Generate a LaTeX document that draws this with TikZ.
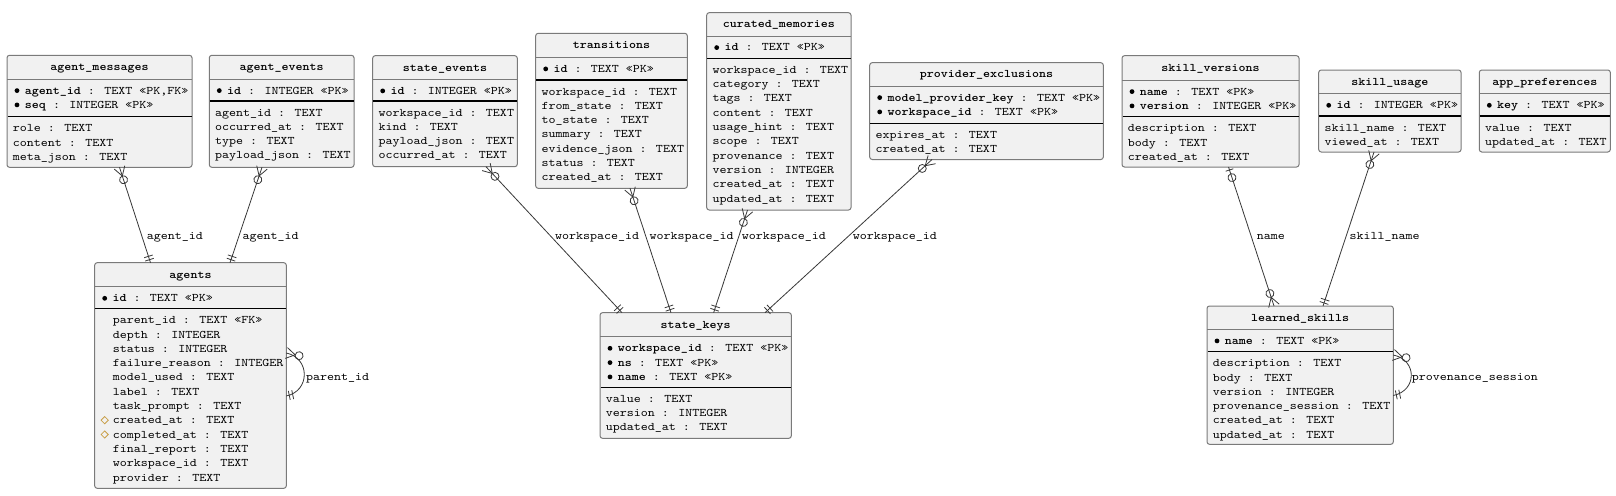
\documentclass[tikz,border=0pt]{standalone}
\usepackage{fontspec}
\newfontfamily\ermono[Extension=.otf, UprightFont=lmmono10-regular, BoldFont=lmmonolt10-bold, FakeStretch=1.15]{lmmono10-regular}
\usetikzlibrary{calc,decorations.markings}
\definecolor{boxfill}{HTML}{F1F1F1}
\definecolor{boxgray}{HTML}{7A7A7A}
\definecolor{relgray}{HTML}{383838}
\definecolor{diamc}{HTML}{C9A04A}
\newcommand\rowfont{\ermono\fontsize{11.6}{14}\selectfont}
% entity frame: node, x1, x2, ytop, ysep1, ysep2, ybot, title
\newcommand\erentity[8]{%
  \pgfmathsetmacro\erw{#3-#2}%
  \pgfmathsetmacro\erh{#7-#4}%
  \node[ebox, minimum width=\erw pt, minimum height=\erh pt, anchor=north west] (#1) at (#2,#4) {};
  \draw[tsep] (#2,#5) -- (#3,#5);
  \draw[psep] ({#2+0.5},#6) -- ({#3-0.5},#6);
  \node[etitle] (#1-title) at ({(#2+#3)/2},{(#4+#5)/2+3.5}) {#8};
}
% key row: node, x1, ysep, index, key, rest
\newcommand\erpk[6]{%
  \fill[black] ({#2+10},{#3+15+#4*14.3-3.4}) circle[radius=2.4pt];
  \node[row] (#1) at ({#2+17.7},{#3+15+#4*14.3}) {\textbf{#5} : #6};
}
% attribute row: node, x, ysep, index, text
\newcommand\erat[5]{%
  \node[row] (#1) at ({#2},{#3+15+#4*14.3}) {#5};
}
\newcommand\erdiam[3]{%
  \draw[diamc, line width=0.8pt] ({#1},{#2+15+#3*14.3-3.6}) +(-3.6,0) -- +(0,-3.6) -- +(3.6,0) -- +(0,3.6) -- cycle;
}
\newcommand\mkCrowCircS{\draw[rel] (0,5.5) -- (9,0) -- (0,-5.5); \draw[rel] (13,0) circle[radius=4pt];}
\newcommand\mkBarCircS{\draw[rel] (3,4) -- (3,-4); \draw[rel] (11,0) circle[radius=4pt];}
\newcommand\mkBarBarE{\draw[rel] (-3,4.5) -- (-3,-4.5) (-6.5,4.5) -- (-6.5,-4.5);}
\newcommand\mkCrowCircE{\draw[rel] (0,5.5) -- (-9,0) -- (0,-5.5); \draw[rel] (-13,0) circle[radius=4pt];}
\tikzset{
  ebox/.style={draw=boxgray, fill=boxfill, line width=1pt, rounded corners=2.5pt, inner sep=0pt, outer sep=0pt},
  tsep/.style={draw=boxgray, line width=0.8pt},
  psep/.style={draw=black, line width=1.1pt},
  etitle/.style={font=\rowfont\bfseries, anchor=base, inner sep=0pt},
  row/.style={font=\rowfont, anchor=base west, inner sep=0pt},
  rel/.style={draw=relgray, line width=0.8pt},
  rlabel/.style={font=\rowfont, anchor=base west, inner sep=0pt},
  crowcircS/.style={postaction={decorate,decoration={markings,mark=at position 0.001 with {\mkCrowCircS}}}},
  barcircS/.style={postaction={decorate,decoration={markings,mark=at position 0.001 with {\mkBarCircS}}}},
  barbarE/.style={postaction={decorate,decoration={markings,mark=at position 0.999 with {\mkBarBarE}}}},
  crowcircE/.style={postaction={decorate,decoration={markings,mark=at position 0.999 with {\mkCrowCircE}}}},
}
\begin{document}
\begin{tikzpicture}[x=1pt,y=-1pt]
\fill[white] (0,0) rectangle (1616,495);
\useasboundingbox (0,0) rectangle (1616,495);

% agent_messages
\erentity{am}{7}{192}{55.3}{79}{116.7}{167.3}{agent\_messages}
\erpk{am-p0}{7}{79}{0}{agent\_id}{TEXT «PK,FK»}
\erpk{am-p1}{7}{79}{1}{seq}{INTEGER «PK»}
\erat{am-a0}{12.7}{116.7}{0}{role : TEXT}
\erat{am-a1}{12.7}{116.7}{1}{content : TEXT}
\erat{am-a2}{12.7}{116.7}{2}{meta\_json : TEXT}

% agent_events
\erentity{ae}{209.3}{354}{55.3}{79}{101}{167.3}{agent\_events}
\erpk{ae-p0}{209.3}{79}{0}{id}{INTEGER «PK»}
\erat{ae-a0}{215}{101}{0}{agent\_id : TEXT}
\erat{ae-a1}{215}{101}{1}{occurred\_at : TEXT}
\erat{ae-a2}{215}{101}{2}{type : TEXT}
\erat{ae-a3}{215}{101}{3}{payload\_json : TEXT}

% agents
\erentity{ag}{94.7}{286.3}{262.7}{286.7}{308.7}{488.3}{agents}
\erpk{ag-p0}{94.7}{286.7}{0}{id}{TEXT «PK»}
\erat{ag-a0}{112.7}{308.7}{0}{parent\_id : TEXT «FK»}
\erat{ag-a1}{112.7}{308.7}{1}{depth : INTEGER}
\erat{ag-a2}{112.7}{308.7}{2}{status : INTEGER}
\erat{ag-a3}{112.7}{308.7}{3}{failure\_reason : INTEGER}
\erat{ag-a4}{112.7}{308.7}{4}{model\_used : TEXT}
\erat{ag-a5}{112.7}{308.7}{5}{label : TEXT}
\erat{ag-a6}{112.7}{308.7}{6}{task\_prompt : TEXT}
\erat{ag-a7}{112.7}{308.7}{7}{created\_at : TEXT}
\erat{ag-a8}{112.7}{308.7}{8}{completed\_at : TEXT}
\erat{ag-a9}{112.7}{308.7}{9}{final\_report : TEXT}
\erat{ag-a10}{112.7}{308.7}{10}{workspace\_id : TEXT}
\erat{ag-a11}{112.7}{308.7}{11}{provider : TEXT}
\erdiam{104.7}{308.7}{7}
\erdiam{104.7}{308.7}{8}

% state_events
\erentity{se}{372.7}{517.3}{55.7}{79.3}{101}{166.7}{state\_events}
\erpk{se-p0}{372.7}{79.3}{0}{id}{INTEGER «PK»}
\erat{se-a0}{378.4}{101}{0}{workspace\_id : TEXT}
\erat{se-a1}{378.4}{101}{1}{kind : TEXT}
\erat{se-a2}{378.4}{101}{2}{payload\_json : TEXT}
\erat{se-a3}{378.4}{101}{3}{occurred\_at : TEXT}

% transitions
\erentity{tr}{535.7}{687.3}{33.3}{57.3}{80}{188.3}{transitions}
\erpk{tr-p0}{535.7}{57.3}{0}{id}{TEXT «PK»}
\erat{tr-a0}{541.4}{80}{0}{workspace\_id : TEXT}
\erat{tr-a1}{541.4}{80}{1}{from\_state : TEXT}
\erat{tr-a2}{541.4}{80}{2}{to\_state : TEXT}
\erat{tr-a3}{541.4}{80}{3}{summary : TEXT}
\erat{tr-a4}{541.4}{80}{4}{evidence\_json : TEXT}
\erat{tr-a5}{541.4}{80}{5}{status : TEXT}
\erat{tr-a6}{541.4}{80}{6}{created\_at : TEXT}

% curated_memories
\erentity{cm}{706.7}{851}{12.7}{36}{58.3}{210}{curated\_memories}
\erpk{cm-p0}{706.7}{36}{0}{id}{TEXT «PK»}
\erat{cm-a0}{712.4}{58.3}{0}{workspace\_id : TEXT}
\erat{cm-a1}{712.4}{58.3}{1}{category : TEXT}
\erat{cm-a2}{712.4}{58.3}{2}{tags : TEXT}
\erat{cm-a3}{712.4}{58.3}{3}{content : TEXT}
\erat{cm-a4}{712.4}{58.3}{4}{usage\_hint : TEXT}
\erat{cm-a5}{712.4}{58.3}{5}{scope : TEXT}
\erat{cm-a6}{712.4}{58.3}{6}{provenance : TEXT}
\erat{cm-a7}{712.4}{58.3}{7}{version : INTEGER}
\erat{cm-a8}{712.4}{58.3}{8}{created\_at : TEXT}
\erat{cm-a9}{712.4}{58.3}{9}{updated\_at : TEXT}

% state_keys
\erentity{sk}{600}{791.3}{312.7}{336.7}{387.3}{438.3}{state\_keys}
\erpk{sk-p0}{600}{336.7}{0}{workspace\_id}{TEXT «PK»}
\erpk{sk-p1}{600}{336.7}{1}{ns}{TEXT «PK»}
\erpk{sk-p2}{600}{336.7}{2}{name}{TEXT «PK»}
\erat{sk-a0}{605.7}{387.3}{0}{value : TEXT}
\erat{sk-a1}{605.7}{387.3}{1}{version : INTEGER}
\erat{sk-a2}{605.7}{387.3}{2}{updated\_at : TEXT}

% provider_exclusions
\erentity{pe}{869.7}{1103.3}{62.7}{86}{123.3}{159.5}{provider\_exclusions}
\erpk{pe-p0}{869.7}{86}{0}{model\_provider\_key}{TEXT «PK»}
\erpk{pe-p1}{869.7}{86}{1}{workspace\_id}{TEXT «PK»}
\erat{pe-a0}{875.4}{123.3}{0}{expires\_at : TEXT}
\erat{pe-a1}{875.4}{123.3}{1}{created\_at : TEXT}

% skill_versions
\erentity{sv}{1122}{1299}{55.7}{80}{116.7}{167}{skill\_versions}
\erpk{sv-p0}{1122}{80}{0}{name}{TEXT «PK»}
\erpk{sv-p1}{1122}{80}{1}{version}{INTEGER «PK»}
\erat{sv-a0}{1127.7}{116.7}{0}{description : TEXT}
\erat{sv-a1}{1127.7}{116.7}{1}{body : TEXT}
\erat{sv-a2}{1127.7}{116.7}{2}{created\_at : TEXT}

% skill_usage
\erentity{su}{1318.7}{1461}{70}{93.7}{116}{152}{skill\_usage}
\erpk{su-p0}{1318.7}{93.7}{0}{id}{INTEGER «PK»}
\erat{su-a0}{1324.4}{116}{0}{skill\_name : TEXT}
\erat{su-a1}{1324.4}{116}{1}{viewed\_at : TEXT}

% app_preferences
\erentity{ap}{1479.3}{1610.3}{70}{93.7}{116}{152}{app\_preferences}
\erpk{ap-p0}{1479.3}{93.7}{0}{key}{TEXT «PK»}
\erat{ap-a0}{1485}{116}{0}{value : TEXT}
\erat{ap-a1}{1485}{116}{1}{updated\_at : TEXT}

% learned_skills
\erentity{ls}{1207}{1393.3}{306}{329.3}{351.7}{444.3}{learned\_skills}
\erpk{ls-p0}{1207}{329.3}{0}{name}{TEXT «PK»}
\erat{ls-a0}{1212.7}{351.7}{0}{description : TEXT}
\erat{ls-a1}{1212.7}{351.7}{1}{body : TEXT}
\erat{ls-a2}{1212.7}{351.7}{2}{version : INTEGER}
\erat{ls-a3}{1212.7}{351.7}{3}{provenance\_session : TEXT}
\erat{ls-a4}{1212.7}{351.7}{4}{created\_at : TEXT}
\erat{ls-a5}{1212.7}{351.7}{5}{updated\_at : TEXT}

% connector end points
\coordinate (c1a) at ($(am.south west)+(112.5,0)$);
\coordinate (c1b) at ($(ag.north west)+(55.8,0)$);
\coordinate (c2a) at ($(ae.south west)+(52.7,0)$);
\coordinate (c2b) at ($(ag.north west)+(135.3,0)$);
\coordinate (c3a) at ($(ag.north east)+(0,90.3)$);
\coordinate (c3b) at ($(ag.north east)+(0,133.3)$);
\coordinate (c4a) at ($(se.south west)+(113.3,0)$);
\coordinate (c4b) at ($(sk.north west)+(22,0)$);
\coordinate (c5a) at ($(tr.south west)+(94.3,0)$);
\coordinate (c5b) at ($(sk.north west)+(71,0)$);
\coordinate (c6a) at ($(cm.south west)+(40.8,0)$);
\coordinate (c6b) at ($(sk.north west)+(113.6,0)$);
\coordinate (c7a) at ($(pe.south west)+(62.3,0)$);
\coordinate (c7b) at ($(sk.north west)+(165,0)$);
\coordinate (c8a) at ($(sv.south west)+(106.5,0)$);
\coordinate (c8b) at ($(ls.north west)+(67,0)$);
\coordinate (c9a) at ($(su.south west)+(55.3,0)$);
\coordinate (c9b) at ($(ls.north west)+(116,0)$);
\coordinate (c10a) at ($(ls.north east)+(0,49)$);
\coordinate (c10b) at ($(ls.north east)+(0,89.5)$);

% connectors
\draw[rel, crowcircS, barbarE] (c1a) -- (c1b);
\draw[rel, crowcircS, barbarE] (c2a) -- (c2b);
\draw[rel, crowcircS, barbarE] (c3a) .. controls +(24,5) and +(24,-5) .. (c3b);
\draw[rel, crowcircS, barbarE] (c4a) -- (c4b);
\draw[rel, crowcircS, barbarE] (c5a) -- (c5b);
\draw[rel, crowcircS, barbarE] (c6a) -- (c6b);
\draw[rel, crowcircS, barbarE] (c7a) -- (c7b);
\draw[rel, barcircS, crowcircE] (c8a) -- (c8b);
\draw[rel, crowcircS, barbarE] (c9a) -- (c9b);
\draw[rel, crowcircS, barbarE] (c10a) .. controls +(24,5) and +(24,-5) .. (c10b);

% connector labels
\node[rlabel] (l1) at (146.7,239.5) {agent\_id};
\node[rlabel] (l2) at (242.3,239.5) {agent\_id};
\node[rlabel] (l3) at (306,380) {parent\_id};
\node[rlabel] (l4) at (555,239.5) {workspace\_id};
\node[rlabel] (l5) at (649.3,239.5) {workspace\_id};
\node[rlabel] (l6) at (741.7,239.5) {workspace\_id};
\node[rlabel] (l7) at (852.7,239.5) {workspace\_id};
\node[rlabel] (l8) at (1256.7,239.5) {name};
\node[rlabel] (l9) at (1349.3,239.5) {skill\_name};
\node[rlabel] (l10) at (1411.7,380) {provenance\_session};
\end{tikzpicture}
\end{document}
